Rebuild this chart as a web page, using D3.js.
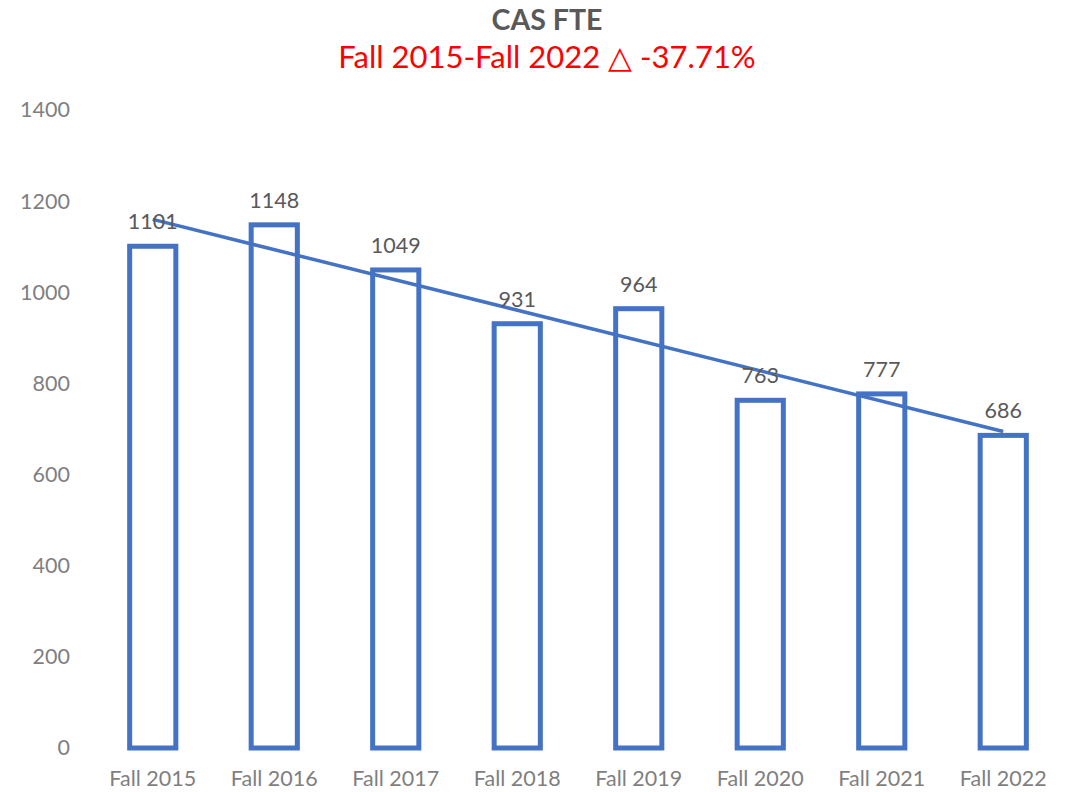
<!DOCTYPE html>
<html>
<head>
<meta charset="utf-8">
<script src="https://cdn.jsdelivr.net/npm/d3@7"></script>
<style>
  body { margin: 0; background: #fff; }
  text { font-family: Lato, "Open Sans", sans-serif; }
</style>
</head>
<body>
<div id="chart"></div>
<script>
var CATEGORIES = ["Fall 2015", "Fall 2016", "Fall 2017", "Fall 2018", "Fall 2019", "Fall 2020", "Fall 2021", "Fall 2022"];
var FTE = [1101, 1148, 1049, 931, 964, 763, 777, 686];
var Y_TICKS = [0, 200, 400, 600, 800, 1000, 1200, 1400];

var W = 1066, H = 792;
var margin = { top: 110, right: 2, bottom: 44, left: 92 };
var width = W - margin.left - margin.right,
    height = H - margin.top - margin.bottom;

var blue = "#4472C4", grey = "#595959", axisGrey = "#7F7F7F";

var svg = d3.select("#chart").append("svg")
            .attr("width", W)
            .attr("height", H);

// titles
svg.append("text")
   .attr("x", 547).attr("y", 30)
   .attr("text-anchor", "middle")
   .attr("font-size", 28.5).attr("font-weight", "bold")
   .attr("fill", grey)
   .text("CAS FTE");

svg.append("text")
   .attr("x", 547).attr("y", 68)
   .attr("text-anchor", "middle")
   .attr("font-size", 31)
   .attr("fill", "#FF0000")
   .text("Fall 2015-Fall 2022 \u25B3 -37.71%");

var g = svg.append("g")
           .attr("transform", "translate(" + margin.left + "," + margin.top + ")");

// scales
var x = d3.scaleBand().domain(CATEGORIES).range([0, width]).paddingInner(0.62).paddingOuter(0.31);
var y = d3.scaleLinear().domain([0, 1400]).range([height, 0]);

// y axis (labels only)
var yAxis = d3.axisLeft(y).tickValues(Y_TICKS).tickFormat(d3.format("d")).tickSize(0).tickPadding(22);
g.append("g").call(yAxis)
 .call(s => s.select(".domain").remove())
 .selectAll("text")
 .attr("font-size", 21.5).attr("fill", axisGrey)
 .style("font-family", "Lato, sans-serif");

// x axis (labels only)
var xAxis = d3.axisBottom(x).tickSize(0).tickPadding(23);
g.append("g").attr("transform", "translate(0," + height + ")").call(xAxis)
 .call(s => s.select(".domain").remove())
 .selectAll("text")
 .attr("font-size", 21.5).attr("fill", axisGrey)
 .style("font-family", "Lato, sans-serif");

// bars (outlined)
var data = CATEGORIES.map((c, i) => ({ cat: c, v: FTE[i] }));
g.selectAll(".bar")
 .data(data)
 .enter().append("rect")
 .attr("class", "bar")
 .attr("x", d => x(d.cat))
 .attr("y", d => y(d.v))
 .attr("width", x.bandwidth())
 .attr("height", d => y(0) - y(d.v))
 .attr("fill", "#fff")
 .attr("stroke", blue)
 .attr("stroke-width", 5);

// linear trendline (least squares over index)
var n = FTE.length;
var mx = d3.mean(FTE, (d, i) => i), my = d3.mean(FTE);
var sxy = d3.sum(FTE, (d, i) => (i - mx) * (d - my));
var sxx = d3.sum(FTE, (d, i) => (i - mx) * (i - mx));
var slope = sxy / sxx, icpt = my - slope * mx;
var trend = [0, n - 1].map(i => ({ cat: CATEGORIES[i], v: icpt + slope * i }));

g.append("path")
 .datum(trend)
 .attr("fill", "none")
 .attr("stroke", blue)
 .attr("stroke-width", 3.5)
 .attr("d", d3.line().x(d => x(d.cat) + x.bandwidth() / 2).y(d => y(d.v)));

// data labels
g.selectAll(".lbl")
 .data(data)
 .enter().append("text")
 .attr("class", "lbl")
 .attr("x", d => x(d.cat) + x.bandwidth() / 2)
 .attr("y", d => y(d.v) - 17)
 .attr("text-anchor", "middle")
 .attr("font-size", 21.5)
 .attr("fill", grey)
 .text(d => d.v);
</script>
</body>
</html>
